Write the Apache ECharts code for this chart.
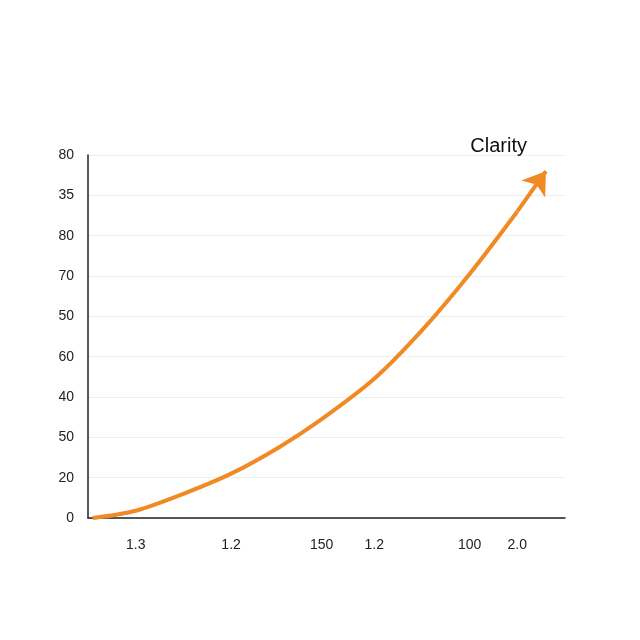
<!DOCTYPE html>
<html><head><meta charset="utf-8">
<script src="https://cdn.jsdelivr.net/npm/echarts@6/dist/echarts.min.js"></script>
<style>html,body{margin:0;padding:0;background:#fff}#c{width:640px;height:640px}</style>
</head><body><div id="c"></div>
<script>
const yLabels = ['0','20','50','40','60','50','70','80','35','80'];
const xTickValues = [10, 30, 49, 60, 80, 90];
const xTickLabels = ['1.3','1.2','150','1.2','100','2.0'];
const seriesName = 'Clarity';
const xData = [1, 10, 20, 30, 40, 49, 60, 70, 80, 90, 96];
const yData = [0, 0.18, 0.6, 1.1, 1.75, 2.45, 3.45, 4.65, 6.05, 7.6, 8.6];

const pts = xData.map((x, i) => [x, yData[i]]);
const n = pts.length;
const chart = echarts.init(document.getElementById('c'));
chart.setOption({
  backgroundColor: '#fff',
  animation: false,
  legend: { data: [seriesName], right: 108, top: 131, icon: 'none', itemWidth: 0,
    textStyle: { fontSize: 20, color: '#111', fontFamily: 'Liberation Sans' } },
  grid: { left: 88, right: 75, top: 155, bottom: 122 },
  xAxis: { type: 'value', min: 0, max: 100, interval: 1,
    axisLine: { lineStyle: { color: '#222', width: 1.5 } },
    axisTick: { show: false }, splitLine: { show: false },
    axisLabel: { margin: 20, fontSize: 14, color: '#222', fontFamily: 'Liberation Sans',
      formatter: v => { const i = xTickValues.indexOf(v); return i >= 0 ? xTickLabels[i] : ''; } } },
  yAxis: { type: 'value', min: 0, max: 9, interval: 1,
    axisLine: { show: true, lineStyle: { color: '#222', width: 1.5 } },
    axisTick: { show: false },
    splitLine: { lineStyle: { color: '#eee' } },
    axisLabel: { margin: 14, fontSize: 14, color: '#222', fontFamily: 'Liberation Sans',
      formatter: v => yLabels[v] } },
  series: [{
    name: seriesName, type: 'line', smooth: 0.3, showSymbol: false,
    data: pts.slice(0, n - 1),
    lineStyle: { color: '#f08a24', width: 4 }, itemStyle: { color: '#f08a24' },
    markLine: { silent: true, symbol: ['none', 'arrow'], symbolSize: 22, label: { show: false },
      lineStyle: { color: '#f08a24', width: 4, type: 'solid' },
      data: [[{ coord: pts[n - 2] }, { coord: pts[n - 1] }]] }
  }]
});
</script></body></html>
